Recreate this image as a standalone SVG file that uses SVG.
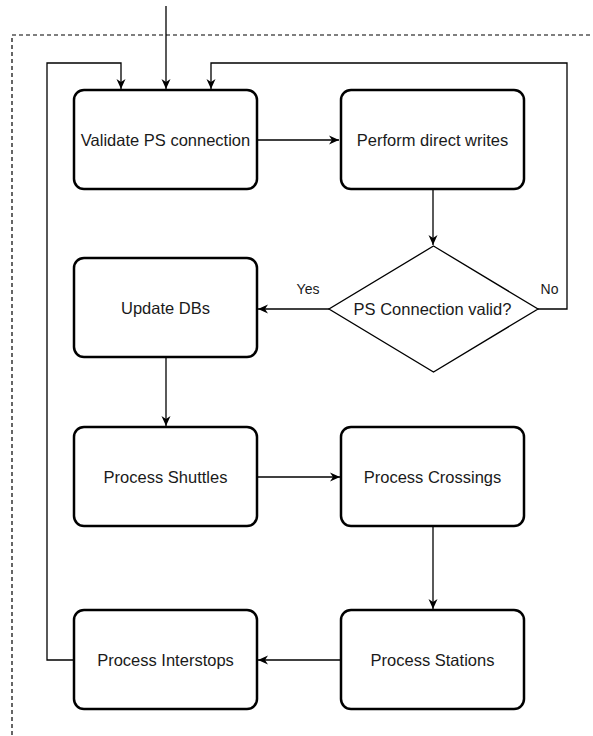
<svg xmlns="http://www.w3.org/2000/svg" width="593" height="736" viewBox="0 0 593 736">
  <style>
    .box { fill: #ffffff; stroke: #000000; stroke-width: 2.5; }
    .lbl { font-family: "Liberation Sans", Arial, sans-serif; font-size: 16.5px; fill: #1a1a1a; text-anchor: middle; }
    .small { font-family: "Liberation Sans", Arial, sans-serif; font-size: 14px; fill: #1a1a1a; text-anchor: middle; }
    .edge { fill: none; stroke: #000000; stroke-width: 1.3; }
    .frame { fill: none; stroke: #000000; stroke-width: 1.2; stroke-dasharray: 4 3; }
  </style>
  <defs>
    <marker id="arrow" markerUnits="userSpaceOnUse" markerWidth="12" markerHeight="10" refX="10" refY="5" orient="auto">
      <path d="M0,0.5 L10,5 L0,9.5 L3,5 Z" fill="#000000"/>
    </marker>
  </defs>

  <rect width="593" height="736" fill="#ffffff"/>

  <!-- dashed container -->
  <path class="frame" d="M12,742 L12,35 L600,35"/>

  <g id="connectors">
    <path class="edge" d="M166,6 L166,89" marker-end="url(#arrow)"/>
    <path class="edge" d="M74,660 L47,660 L47,63 L121,63 L121,89" marker-end="url(#arrow)"/>
    <path class="edge" d="M538,309 L567,309 L567,63 L211,63 L211,89" marker-end="url(#arrow)"/>
    <path class="edge" d="M257,140 L339,140" marker-end="url(#arrow)"/>
    <path class="edge" d="M433,189 L433,245" marker-end="url(#arrow)"/>
    <path class="edge" d="M329,309 L258,309" marker-end="url(#arrow)"/>
    <path class="edge" d="M166,357 L166,426" marker-end="url(#arrow)"/>
    <path class="edge" d="M257,477 L340,477" marker-end="url(#arrow)"/>
    <path class="edge" d="M433,526 L433,609" marker-end="url(#arrow)"/>
    <path class="edge" d="M341,660 L258,660" marker-end="url(#arrow)"/>
    <text class="small" x="308" y="294">Yes</text>
    <text class="small" x="549.5" y="294">No</text>
  </g>

  <g id="validate">
    <rect class="box" x="74" y="90" width="183" height="99" rx="10"/>
    <text class="lbl" x="165.5" y="145.5">Validate PS connection</text>
  </g>
  <g id="direct-writes">
    <rect class="box" x="341" y="90" width="183" height="99" rx="10"/>
    <text class="lbl" x="432.5" y="145.5">Perform direct writes</text>
  </g>
  <g id="ps-valid">
    <path class="box" d="M433.5,246 L538,309 L433.5,372 L329,309 Z" style="stroke-width:1.3"/>
    <text class="lbl" x="432.5" y="314.5">PS Connection valid?</text>
  </g>
  <g id="update-dbs">
    <rect class="box" x="74" y="258" width="183" height="99" rx="10"/>
    <text class="lbl" x="165.5" y="314">Update DBs</text>
  </g>
  <g id="shuttles">
    <rect class="box" x="74" y="427" width="183" height="99" rx="10"/>
    <text class="lbl" x="165.5" y="482.5">Process Shuttles</text>
  </g>
  <g id="crossings">
    <rect class="box" x="341" y="427" width="183" height="99" rx="10"/>
    <text class="lbl" x="432.5" y="482.5">Process Crossings</text>
  </g>
  <g id="stations">
    <rect class="box" x="341" y="610" width="183" height="99" rx="10"/>
    <text class="lbl" x="432.5" y="665.5">Process Stations</text>
  </g>
  <g id="interstops">
    <rect class="box" x="74" y="610" width="183" height="99" rx="10"/>
    <text class="lbl" x="165.5" y="665.5">Process Interstops</text>
  </g>
</svg>
